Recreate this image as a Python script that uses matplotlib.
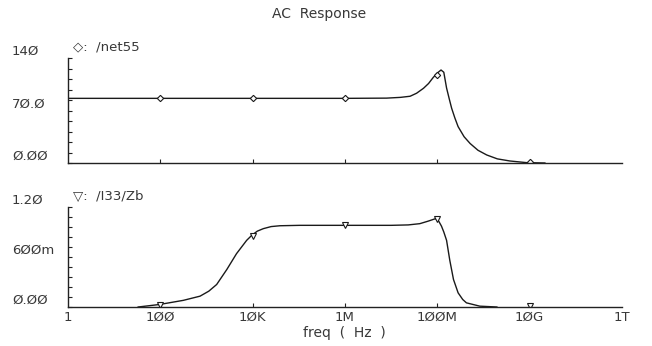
import numpy as np
import matplotlib
matplotlib.use("Agg")
import matplotlib.pyplot as plt
from matplotlib.transforms import blended_transform_factory

# /net55 trace: log10(freq) and magnitude
net55_exp = [0.0, 2.0, 4.0, 6.0, 6.9, 7.2, 7.41, 7.55, 7.70, 7.81, 7.91, 8.00,
             8.08, 8.14, 8.20, 8.26, 8.31, 8.38, 8.45, 8.58, 8.71, 8.88, 9.07,
             9.30, 9.57, 9.93, 10.33]
net55_val = [86.2, 86.2, 86.2, 86.2, 86.5, 87.5, 89.0, 93.0, 99.6, 106.0, 114.0,
             120.0, 124.0, 121.0, 100.0, 85.0, 73.0, 60.0, 48.5, 35.0, 26.0,
             17.0, 10.7, 5.5, 2.7, 0.5, 0.0]
net55_mark_exp = [2, 4, 6, 8, 10]
net55_mark_val = [86.2, 86.2, 86.2, 117.0, 1.7]

# /I33/Zb trace
zb_exp = [1.52, 1.98, 2.50, 2.86, 3.05, 3.22, 3.44, 3.65, 3.87, 3.98, 4.10,
          4.23, 4.40, 4.59, 5.02, 6.0, 7.0, 7.37, 7.62, 7.80, 7.96, 8.03, 8.09,
          8.14, 8.20, 8.27, 8.35, 8.45, 8.55, 8.63, 8.92, 9.29]
zb_val = [0.0, 0.03, 0.08, 0.13, 0.19, 0.27, 0.45, 0.64, 0.80, 0.86, 0.91,
          0.94, 0.965, 0.975, 0.98, 0.98, 0.98, 0.985, 1.0, 1.03, 1.06, 1.03,
          0.97, 0.90, 0.80, 0.56, 0.33, 0.17, 0.09, 0.05, 0.01, 0.0]
zb_mark_exp = [2, 4, 6, 8, 10]
zb_mark_val = [0.03, 0.85, 0.98, 1.05, 0.015]

xtick_exp = [0, 2, 4, 6, 8, 10, 12]
xtick_labels = ["1", "1ØØ", "1ØK", "1M", "1ØØM", "1ØG", "1T"]

top_ticks = [0, 70, 140]
top_labels = ["Ø.ØØ", "7Ø.Ø", "14Ø"]
bot_ticks = [0, 0.6, 1.2]
bot_labels = ["Ø.ØØ", "6ØØm", "1.2Ø"]

W, H = 652, 346
txt = "#383838"
plt.rcParams["font.family"] = ["DejaVu Sans"]

fig = plt.figure(figsize=(W / 100, H / 100), dpi=100)
ax1 = fig.add_axes([68 / W, 1 - 163 / H, 554 / W, 105 / H])
ax2 = fig.add_axes([68 / W, 1 - 307 / H, 554 / W, 100 / H])

def style(ax, ymax, ticks, labels, step):
    ax.set_xscale("log")
    ax.set_xlim(1, 1e12)
    ax.set_ylim(0, ymax)
    for s in ["top", "right"]:
        ax.spines[s].set_visible(False)
    for s in ["left", "bottom"]:
        ax.spines[s].set_linewidth(1.0)
        ax.spines[s].set_color("#222222")
    ax.set_xticks([10.0 ** e for e in xtick_exp])
    ax.xaxis.set_minor_locator(matplotlib.ticker.NullLocator())
    ax.set_yticks(np.arange(11) * step)
    ax.set_yticklabels([])
    ax.tick_params(axis="both", direction="in", length=3, width=0.8,
                   color="#222222", labelsize=9.5, labelcolor=txt)
    # no tick marks at the two ends of the frequency axis
    xt = ax.xaxis.get_major_ticks()
    for t in (xt[0], xt[-1]):
        t.tick1line.set_visible(False)
    tr = blended_transform_factory(fig.transFigure, ax.transData)
    for v, lab in zip(ticks, labels):
        ax.text(12 / W, v, lab, transform=tr, ha="left", va="bottom",
                fontsize=9.5, color=txt)

style(ax1, 140, top_ticks, top_labels, 14)
style(ax2, 1.2, bot_ticks, bot_labels, 0.12)
ax1.set_xticklabels([])
ax2.set_xticklabels(xtick_labels)
ax2.tick_params(axis="x", pad=3)

ax1.plot([10.0 ** e for e in net55_exp], net55_val, color="#1a1a1a", lw=1.0)
ax1.plot([10.0 ** e for e in net55_mark_exp], net55_mark_val, ls="none",
         marker="D", ms=3.2, mfc="white", mec="#1a1a1a", mew=0.8)
ax2.plot([10.0 ** e for e in zb_exp], zb_val, color="#1a1a1a", lw=1.0)
ax2.plot([10.0 ** e for e in zb_mark_exp], zb_mark_val, ls="none",
         marker="v", ms=4.5, mfc="white", mec="#1a1a1a", mew=0.8)

fig.text(73 / W, 1 - 47 / H, "◇:  /net55", fontsize=9.5, color=txt,
         ha="left", va="center")
fig.text(73 / W, 1 - 197 / H, "▽:  /I33/Zb", fontsize=9.5, color=txt,
         ha="left", va="center")
fig.text(319 / W, 1 - 14 / H, "AC  Response", fontsize=10, color=txt,
         ha="center", va="center")
fig.text(344 / W, 1 - 333 / H, "freq  (  Hz  )", fontsize=10, color=txt,
         ha="center", va="center")

fig.savefig("out.png", dpi=100, facecolor="white")
